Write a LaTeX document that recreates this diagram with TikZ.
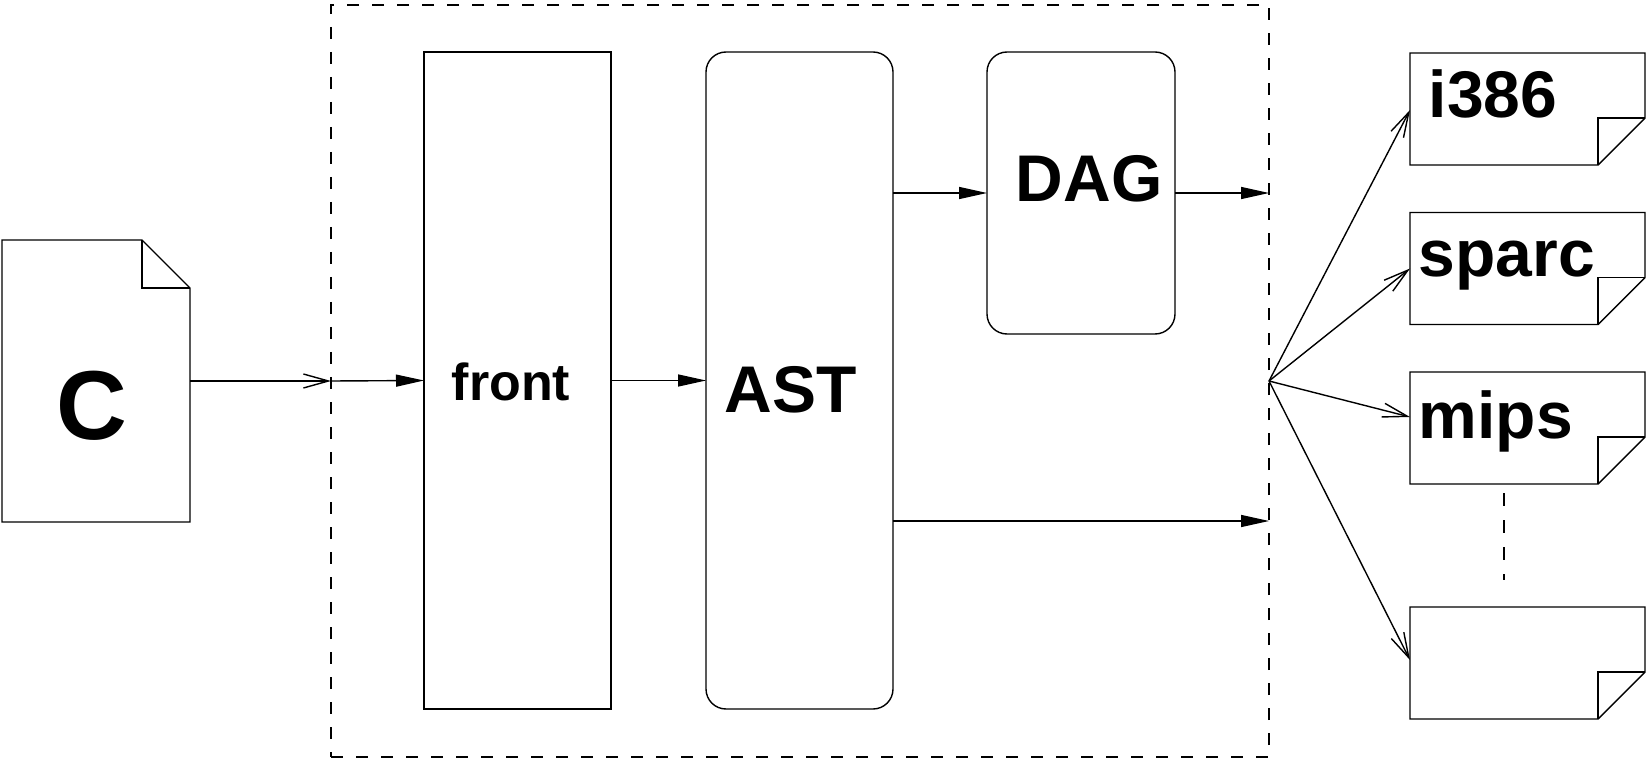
\documentclass[tikz,border=0pt]{standalone}
\usepackage{fontspec}
\setmainfont{Liberation Sans}
\usetikzlibrary{arrows.meta,calc}
\tikzset{
  every path/.style={line width=1.4pt},
  box/.style={draw, line width=1.4pt, inner sep=0pt, outer sep=0pt},
  phantombox/.style={inner sep=0pt, outer sep=0pt},
  sysbox/.style={draw, line width=1.2pt, dash pattern=on 12pt off 13pt, inner sep=0pt, outer sep=0pt},
  filled/.style={-{Triangle[length=28pt,width=12pt]}},
  open/.style={-{Straight Barb[length=25pt,width=14pt,line width=1.4pt]}},
  lbl/.style={anchor=base west, inner sep=0pt, font=\bfseries},
}
\begin{document}
\begin{tikzpicture}[x=1pt,y=-1pt]
\useasboundingbox (0,0) rectangle (1647,759);
% system dashed box
\node[sysbox, minimum width=938pt, minimum height=752pt] (sys) at (800,381) {};
% C source document
\node[phantombox, minimum width=188pt, minimum height=282pt] (c) at (96,381) {};
\draw ($(c.north east)+(-48,0)$) -- (c.north west) -- (c.south west) -- (c.south east) -- ($(c.north east)+(0,48)$) -- cycle;
\draw ($(c.north east)+(-48,0)$) -- ($(c.north east)+(-48,48)$) -- ($(c.north east)+(0,48)$);
\node[lbl, font=\bfseries\fontsize{98}{98}\selectfont] (ctext) at (56,439) {C};
% stages
\node[box, minimum width=187pt, minimum height=657pt] (front) at (517.5,380.5) {};
\node[box, rounded corners=20pt, minimum width=187pt, minimum height=657pt] (ast) at (799.5,380.5) {};
\node[box, rounded corners=20pt, minimum width=188pt, minimum height=282pt] (dag) at (1081,193) {};
\node[lbl, font=\bfseries\fontsize{52}{52}\selectfont] (fronttext) at (451,400) {front};
\node[lbl, font=\bfseries\fontsize{66}{66}\selectfont] (asttext) at (724,412) {AST};
\node[lbl, font=\bfseries\fontsize{66}{66}\selectfont] (dagtext) at (1015,202) {DAG};
% output documents
\foreach \n/\cy in {i386/109, sparc/268.5, mips/428, blank/663} {
  \node[phantombox, minimum width=235pt, minimum height=112pt] (\n) at (1527.5,\cy) {};
  \draw (\n.north west) -- (\n.north east) -- ($(\n.south east)+(0,-47)$) -- ($(\n.south east)+(-47,0)$) -- (\n.south west) -- cycle;
  \draw ($(\n.south east)+(0,-47)$) -- ($(\n.south east)+(-47,-47)$) -- ($(\n.south east)+(-47,0)$);
}
\node[lbl, font=\bfseries\fontsize{66}{66}\selectfont] (i386text) at (1428,118) {i386};
\node[lbl, font=\bfseries\fontsize{66}{66}\selectfont] (sparctext) at (1418,277) {sparc};
\node[lbl, font=\bfseries\fontsize{66}{66}\selectfont] (mipstext) at (1418,438) {mips};
% connectors
\draw[open] (c.east) -- (sys.west);
\draw[filled] (sys.west) -- (front.west);
\draw[filled] (front.east) -- (ast.west);
\draw[filled] (ast.east |- dag.west) -- (dag.west);
\draw[filled] (dag.east) -- (dag.east -| sys.east);
\coordinate (astout) at (893,521);
\draw[filled] (astout) -- (astout -| sys.east);
\coordinate (fan) at (1269,381);
\draw[open] (fan) -- ($(i386.west)+(0,1)$);
\draw[open] (fan) -- (sparc.west);
\draw[open] (fan) -- ($(mips.west)+(0,-11)$);
\draw[open] (fan) -- ($(blank.west)+(0,-3)$);
\coordinate (dotstart) at (1504,493);
\coordinate (dotend) at (1504,580);
\draw[dash pattern=on 13pt off 14pt, line width=1.2pt] (dotstart) -- (dotend);
\end{tikzpicture}
\end{document}
